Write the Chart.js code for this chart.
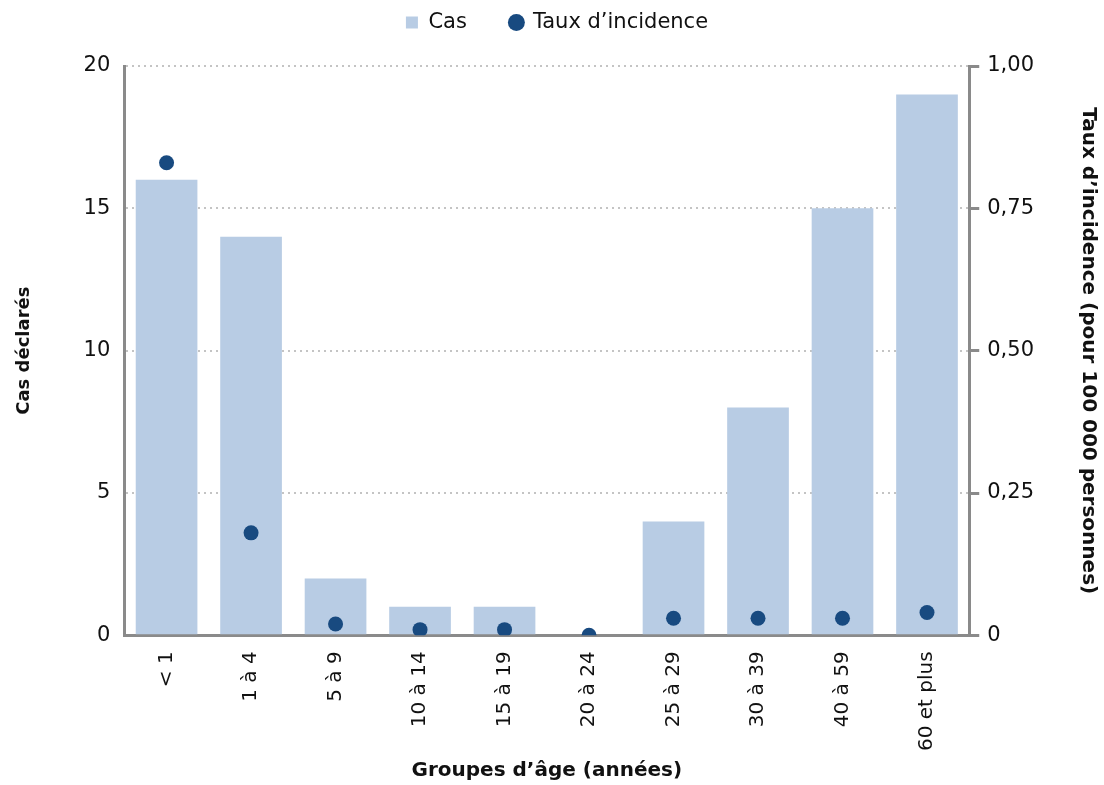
<!DOCTYPE html>
<html lang="fr">
<head>
<meta charset="utf-8">
<script src="https://cdn.jsdelivr.net/npm/chart.js@4/dist/chart.umd.min.js"></script>
<style>
  html, body { margin: 0; padding: 0; background: #fff; }
  #wrap { width: 1104px; height: 785px; position: relative; }
</style>
</head>
<body>
<div id="wrap"><canvas id="age-chart"></canvas></div>
<script>
// données
const ageGroups = ['< 1', '1 à 4', '5 à 9', '10 à 14', '15 à 19', '20 à 24', '25 à 29', '30 à 39', '40 à 59', '60 et plus'];
const cases = [16, 14, 2, 1, 1, 0, 4, 8, 15, 19];
const incidence = [0.83, 0.18, 0.02, 0.01, 0.01, 0, 0.03, 0.03, 0.03, 0.04];
const leftTicks = [0, 5, 10, 15, 20];
const rightTicks = [0, 0.25, 0.5, 0.75, 1];

const FONT = '"DejaVu Sans", "Noto Sans", sans-serif';
const AXIS_GREY = '#8a8a8a';

const fmtRate = (v) => v === 0 ? '0' : v.toFixed(2).replace('.', ',');

// un peu d'air sous la légende
const legendGap = {
    id: 'legendGap',
    afterInit(chart) {
        const fit = chart.legend.fit;
        chart.legend.fit = function () { fit.call(this); this.height += 23; };
    }
};

new Chart(document.getElementById('age-chart'), {
    data: {
        labels: ageGroups,
        datasets: [
            {
                type: 'bar', label: 'Cas', data: cases, yAxisID: 'y', order: 1,
                backgroundColor: '#b8cce4', borderWidth: 0,
                categoryPercentage: 1.0, barPercentage: 0.73,
                pointStyle: 'rect'
            },
            {
                type: 'line', label: 'Taux d\u2019incidence', data: incidence, yAxisID: 'y1', order: 0,
                showLine: false, pointRadius: 7.5, pointHoverRadius: 7.5,
                pointBackgroundColor: '#184a80', pointBorderWidth: 0,
                backgroundColor: '#184a80', borderColor: '#184a80', pointStyle: 'circle'
            }
        ]
    },
    plugins: [legendGap],
    options: {
        responsive: true, maintainAspectRatio: false, animation: false,
        layout: { padding: { top: 0, left: 14, right: 4, bottom: 0 } },
        plugins: {
            legend: {
                position: 'top', reverse: true,
                labels: {
                    usePointStyle: true, boxWidth: 12, boxHeight: 12, padding: 12,
                    color: '#111', font: { family: FONT, size: 21 },
                    generateLabels: (chart) => Chart.defaults.plugins.legend.labels.generateLabels(chart)
                        .map(l => (l.text === 'Cas' ? { ...l, text: 'Cas\u2003\u2002' } : l))
                }
            },
            tooltip: { enabled: false }
        },
        scales: {
            x: {
                grid: { display: false },
                border: { color: AXIS_GREY, width: 3 },
                ticks: {
                    minRotation: 90, maxRotation: 90, padding: 8,
                    color: '#111', font: { family: FONT, size: 20 }
                },
                title: {
                    display: true, text: 'Groupes d\u2019âge (années)', padding: { top: 0, bottom: 2 },
                    color: '#111', font: { family: FONT, size: 20, weight: 'bold' }
                }
            },
            y: {
                position: 'left', min: 0, max: 20,
                afterBuildTicks: (axis) => { axis.ticks = leftTicks.map(v => ({ value: v })); },
                grid: {
                    drawTicks: false, lineWidth: 2,
                    color: (c) => c.tick && c.tick.value === 0 ? 'rgba(0,0,0,0)' : '#c4c4c4'
                },
                border: { color: AXIS_GREY, width: 3, dash: [2, 4] },
                ticks: { padding: 14, color: '#111', font: { family: FONT, size: 21 } },
                title: {
                    display: true, text: 'Cas déclarés', padding: { top: 0, bottom: 34 },
                    color: '#111', font: { family: FONT, size: 18, weight: 'bold' }
                }
            },
            y1: {
                position: 'right', min: 0, max: 1,
                afterBuildTicks: (axis) => { axis.ticks = rightTicks.map(v => ({ value: v })); },
                grid: { drawOnChartArea: false, drawTicks: true, tickLength: 10, color: AXIS_GREY, lineWidth: 3 },
                border: { color: AXIS_GREY, width: 3 },
                ticks: { padding: 8, callback: fmtRate, color: '#111', font: { family: FONT, size: 21 } },
                title: {
                    display: true, text: 'Taux d\u2019incidence (pour 100 000 personnes)', padding: { top: 0, bottom: 34 },
                    color: '#111', font: { family: FONT, size: 20, weight: 'bold' }
                }
            }
        }
    }
});
</script>
</body>
</html>
